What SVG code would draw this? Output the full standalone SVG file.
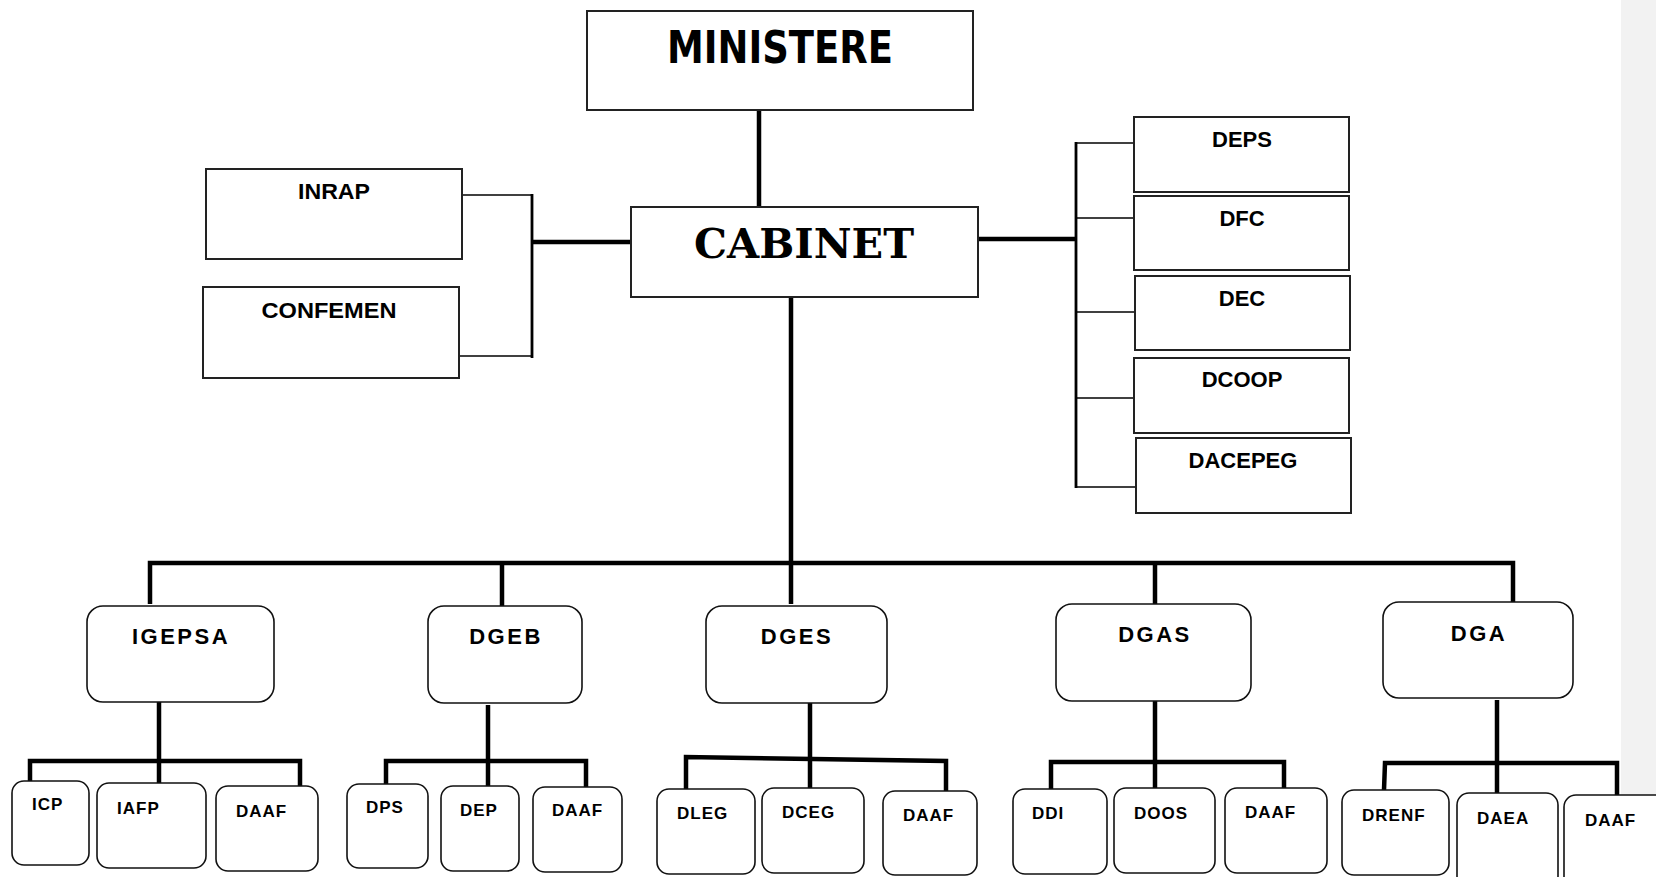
<svg xmlns="http://www.w3.org/2000/svg" width="1656" height="877" viewBox="0 0 1656 877">
<style>
.box{fill:#fff;stroke:#222;stroke-width:2}
.rbox{fill:#fff;stroke:#111;stroke-width:1.6}
.t{font-family:"Liberation Sans",Arial,sans-serif;font-weight:bold;fill:#000}
.side{font-size:22px;text-anchor:middle}
.big{font-size:22px;letter-spacing:2.5px;text-anchor:middle}
.sm{font-size:17px;letter-spacing:1px}
.thick{stroke:#000;stroke-width:4.5;fill:none}
.mid{stroke:#000;stroke-width:2.8;fill:none}
.thin{stroke:#000;stroke-width:1.6;fill:none}
</style>
<rect x="0" y="0" width="1656" height="877" fill="#fff"/>
<rect x="1621" y="0" width="35" height="877" fill="#f2f2f2"/>
<g id="connectors">
<line class="thick" x1="759" y1="110" x2="759" y2="207"/>
<line class="thick" x1="532" y1="242" x2="631" y2="242"/>
<line class="mid" x1="532" y1="194" x2="532" y2="358"/>
<line class="thin" x1="462" y1="195" x2="532" y2="195"/>
<line class="thin" x1="459" y1="356" x2="532" y2="356"/>
<line class="thick" x1="978" y1="239" x2="1076" y2="239"/>
<line class="mid" x1="1076" y1="142" x2="1076" y2="488"/>
<line class="thin" x1="1076" y1="143" x2="1134" y2="143"/>
<line class="thin" x1="1076" y1="218" x2="1134" y2="218"/>
<line class="thin" x1="1076" y1="312" x2="1135" y2="312"/>
<line class="thin" x1="1076" y1="398" x2="1134" y2="398"/>
<line class="thin" x1="1076" y1="487" x2="1136" y2="487"/>
<line class="thick" x1="791" y1="297" x2="791" y2="604"/>
<polyline class="thick" points="150,604 150,563 1513,563 1513,602"/>
<line class="thick" x1="502" y1="563" x2="502" y2="606"/>
<line class="thick" x1="1155" y1="563" x2="1155" y2="604"/>
<line class="thick" x1="159" y1="702" x2="159" y2="783"/>
<polyline class="thick" points="30,781 30,761 300,761 300,786"/>
<line class="thick" x1="488" y1="705" x2="488" y2="786"/>
<polyline class="thick" points="386,784 386,761 586,761 586,787"/>
<line class="thick" x1="810" y1="703" x2="810" y2="788"/>
<polyline class="thick" points="686,789 686,757 946,761 946,791"/>
<line class="thick" x1="1155" y1="701" x2="1155" y2="788"/>
<polyline class="thick" points="1051,789 1051,762 1284,762 1284,788"/>
<line class="thick" x1="1497" y1="700" x2="1497" y2="793"/>
<polyline class="thick" points="1384,790 1385,763 1617,763 1617,795"/>
</g>
<g id="ministere">
<rect class="box" x="587" y="11" width="386" height="99"/>
<text x="780" y="63" font-family="'DejaVu Sans Condensed','DejaVu Sans',sans-serif" font-weight="bold" font-size="44" text-anchor="middle" textLength="226" lengthAdjust="spacingAndGlyphs">MINISTERE</text>
</g>
<g id="cabinet">
<rect class="box" x="631" y="207" width="347" height="90"/>
<text x="804" y="258" font-family="'DejaVu Serif','Liberation Serif',serif" font-weight="bold" font-size="41" text-anchor="middle" textLength="220" lengthAdjust="spacingAndGlyphs">CABINET</text>
</g>
<g id="inrap">
<rect class="box" x="206" y="169" width="256" height="90"/>
<text class="t side" x="334" y="199" textLength="72" lengthAdjust="spacingAndGlyphs">INRAP</text>
</g>
<g id="confemen">
<rect class="box" x="203" y="287" width="256" height="91"/>
<text class="t side" x="329" y="318" textLength="135" lengthAdjust="spacingAndGlyphs">CONFEMEN</text>
</g>
<g id="deps">
<rect class="box" x="1134" y="117" width="215" height="75"/>
<text class="t side" x="1242" y="147">DEPS</text>
</g>
<g id="dfc">
<rect class="box" x="1134" y="196" width="215" height="74"/>
<text class="t side" x="1242" y="226">DFC</text>
</g>
<g id="dec">
<rect class="box" x="1135" y="276" width="215" height="74"/>
<text class="t side" x="1242" y="306">DEC</text>
</g>
<g id="dcoop">
<rect class="box" x="1134" y="358" width="215" height="75"/>
<text class="t side" x="1242" y="387">DCOOP</text>
</g>
<g id="dacepeg">
<rect class="box" x="1136" y="438" width="215" height="75"/>
<text class="t side" x="1243" y="468">DACEPEG</text>
</g>
<g id="igepsa">
<rect class="rbox" x="87" y="606" width="187" height="96" rx="16"/>
<text class="t big" x="181" y="644">IGEPSA</text>
</g>
<g id="dgeb">
<rect class="rbox" x="428" y="606" width="154" height="97" rx="16"/>
<text class="t big" x="506" y="644">DGEB</text>
</g>
<g id="dges">
<rect class="rbox" x="706" y="606" width="181" height="97" rx="16"/>
<text class="t big" x="797" y="644">DGES</text>
</g>
<g id="dgas">
<rect class="rbox" x="1056" y="604" width="195" height="97" rx="16"/>
<text class="t big" x="1155" y="642">DGAS</text>
</g>
<g id="dga">
<rect class="rbox" x="1383" y="602" width="190" height="96" rx="16"/>
<text class="t big" x="1479" y="641">DGA</text>
</g>
<g id="icp">
<rect class="rbox" x="12" y="781" width="77" height="84" rx="12"/>
<text class="t sm" x="32" y="810">ICP</text>
</g>
<g id="iafp">
<rect class="rbox" x="97" y="783" width="109" height="85" rx="12"/>
<text class="t sm" x="117" y="814">IAFP</text>
</g>
<g id="daaf1">
<rect class="rbox" x="216" y="786" width="102" height="85" rx="12"/>
<text class="t sm" x="236" y="817">DAAF</text>
</g>
<g id="dps">
<rect class="rbox" x="347" y="784" width="81" height="84" rx="12"/>
<text class="t sm" x="366" y="813">DPS</text>
</g>
<g id="dep">
<rect class="rbox" x="441" y="786" width="78" height="85" rx="12"/>
<text class="t sm" x="460" y="816">DEP</text>
</g>
<g id="daaf2">
<rect class="rbox" x="533" y="787" width="89" height="85" rx="12"/>
<text class="t sm" x="552" y="816">DAAF</text>
</g>
<g id="dleg">
<rect class="rbox" x="657" y="789" width="98" height="85" rx="12"/>
<text class="t sm" x="677" y="819">DLEG</text>
</g>
<g id="dceg">
<rect class="rbox" x="762" y="788" width="102" height="85" rx="12"/>
<text class="t sm" x="782" y="818">DCEG</text>
</g>
<g id="daaf3">
<rect class="rbox" x="883" y="791" width="94" height="84" rx="12"/>
<text class="t sm" x="903" y="821">DAAF</text>
</g>
<g id="ddi">
<rect class="rbox" x="1013" y="789" width="94" height="85" rx="12"/>
<text class="t sm" x="1032" y="819">DDI</text>
</g>
<g id="doos">
<rect class="rbox" x="1114" y="788" width="101" height="85" rx="12"/>
<text class="t sm" x="1134" y="819">DOOS</text>
</g>
<g id="daaf4">
<rect class="rbox" x="1225" y="788" width="102" height="85" rx="12"/>
<text class="t sm" x="1245" y="818">DAAF</text>
</g>
<g id="drenf">
<rect class="rbox" x="1342" y="790" width="107" height="85" rx="12"/>
<text class="t sm" x="1362" y="821">DRENF</text>
</g>
<g id="daea">
<rect class="rbox" x="1457" y="793" width="101" height="95" rx="12"/>
<text class="t sm" x="1477" y="824">DAEA</text>
</g>
<g id="daaf5">
<rect class="rbox" x="1564" y="795" width="110" height="95" rx="12"/>
<text class="t sm" x="1585" y="826">DAAF</text>
</g>
</svg>
